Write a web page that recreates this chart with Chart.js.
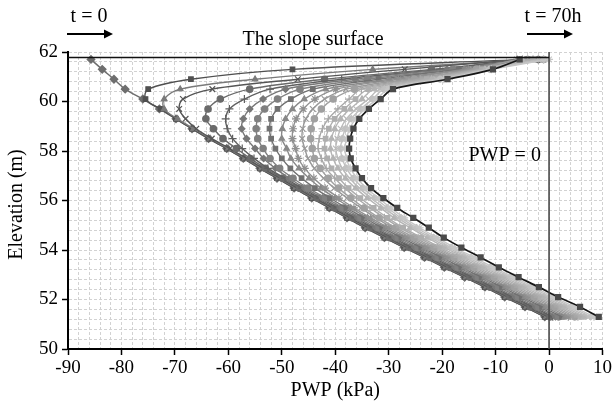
<!DOCTYPE html>
<html><head><meta charset="utf-8">
<script src="https://cdn.jsdelivr.net/npm/chart.js@4/dist/chart.umd.min.js"></script>
<style>html,body{margin:0;padding:0;background:#fff;}canvas{display:block;}</style>
</head><body>
<canvas id="c" width="614" height="405"></canvas>
<script>
// ---- data (elevation nodes, m) ----
const elevation = [61.7, 61.3, 60.9, 60.5, 60.1, 59.7, 59.3, 58.9, 58.5, 58.1, 57.7, 57.3, 56.9, 56.5, 56.1, 55.7, 55.3, 54.9, 54.5, 54.1, 53.7, 53.3, 52.9, 52.5, 52.1, 51.7, 51.3];
// ---- PWP profiles (kPa), t = 0 ... t = 70h ----
const pwp_t0  = [-85.7, -83.6, -81.4, -79.3, -76.0, -72.9, -69.8, -66.8, -63.7, -60.3, -57.2, -54.1, -50.9, -47.7, -44.4, -41.1, -37.8, -34.4, -30.8, -27.1, -23.3, -19.6, -15.8, -12.0, -8.3, -4.5, -0.8];
const pwp_s1  = [-4, -48, -67, -75, -75.5, -72.7, -69.8, -66.8, -63.7, -60.3, -57.2, -54.1, -50.9, -47.7, -44.4, -41.1, -37.8, -34.4, -30.8, -27.1, -23.3, -19.6, -15.8, -12.0, -8.3, -4.5, -0.8];
const pwp_s2  = [-3, -33, -55, -69, -72, -72, -69.5, -66.5, -63.4, -60.0, -56.9, -53.8, -50.6, -47.4, -44.1, -40.8, -37.5, -34.1, -30.5, -26.8, -23.0, -19.3, -15.5, -11.7, -8.0, -4.2, -0.5];
const pwp_s3  = [-5, -27, -47, -63, -68.5, -69.2, -68.0, -66.0, -63.1, -59.7, -56.6, -53.5, -50.3, -47.1, -43.8, -40.5, -37.2, -33.8, -30.2, -26.5, -22.7, -19.0, -15.2, -11.4, -7.7, -3.9, -0.2];
const pwp_s4  = [-2, -22, -42, -56, -61.5, -63.8, -64.2, -62.8, -61.0, -58.5, -55.9, -53.1, -49.9, -46.7, -43.4, -40.1, -36.8, -33.4, -29.8, -26.1, -22.3, -18.6, -14.8, -11.0, -7.3, -3.5, 0.2];
const pwp_s5  = [-6, -20.4, -38.8, -52.2, -57.0, -59.8, -60.5, -60.2, -59.2, -57.4, -55.2, -52.6, -49.4, -46.2, -42.9, -39.6, -36.3, -32.9, -29.3, -25.6, -21.8, -18.1, -14.3, -10.5, -6.8, -3.0, 0.7];
const pwp_s6  = [-1, -19.1, -36.3, -49.3, -53.5, -56.0, -57.2, -57.5, -56.6, -55.0, -53.4, -51.2, -48.6, -45.7, -42.4, -39.1, -35.8, -32.4, -28.8, -25.1, -21.3, -17.6, -13.8, -10.0, -6.3, -2.5, 1.2];
const pwp_s7  = [-4, -18.0, -34.0, -46.6, -50.8, -53.2, -54.5, -54.8, -54.5, -53.5, -52.2, -50.4, -47.9, -45.1, -41.8, -38.5, -35.2, -31.8, -28.2, -24.5, -20.7, -17.0, -13.2, -9.4, -5.7, -1.9, 1.8];
const pwp_s8  = [-3, -16.9, -31.9, -44.2, -48.3, -50.8, -52.0, -52.3, -52.0, -51.2, -50.0, -48.4, -46.3, -43.8, -41.0, -37.9, -34.6, -31.2, -27.6, -23.9, -20.1, -16.4, -12.6, -8.8, -5.1, -1.3, 2.4];
const pwp_s9  = [-5, -15.9, -29.8, -41.8, -45.8, -48.0, -49.3, -49.9, -50.0, -49.1, -48.3, -46.8, -44.9, -42.7, -40.0, -37.1, -34.0, -30.6, -27.0, -23.3, -19.5, -15.8, -12.0, -8.2, -4.5, -0.7, 3.0];
const pwp_s10 = [-2, -15.1, -28.2, -39.9, -43.8, -46.0, -47.3, -47.9, -48.0, -47.4, -46.9, -45.7, -44.0, -41.9, -39.3, -36.5, -33.4, -30.0, -26.4, -22.7, -18.9, -15.2, -11.4, -7.6, -3.9, -0.1, 3.6];
const pwp_s11 = [-6, -14.3, -26.6, -38.0, -42.0, -44.2, -45.5, -46.1, -46.2, -45.7, -45.1, -43.9, -42.2, -40.2, -37.8, -35.2, -32.4, -29.3, -25.8, -22.1, -18.3, -14.6, -10.8, -7.0, -3.3, 0.5, 4.2];
const pwp_s12 = [-1, -13.6, -25.2, -36.4, -40.4, -42.6, -43.9, -44.5, -44.6, -44.3, -43.9, -42.8, -41.3, -39.4, -37.1, -34.6, -31.8, -28.7, -25.2, -21.5, -17.7, -14.0, -10.2, -6.4, -2.7, 1.1, 4.8];
const pwp_s13 = [-4, -13.0, -24.1, -35.1, -37.4, -39.5, -41.3, -42.4, -43.0, -43.2, -42.6, -41.7, -40.1, -38.2, -36.0, -33.5, -30.8, -27.9, -24.5, -20.9, -17.1, -13.4, -9.6, -5.8, -2.1, 1.7, 5.4];
const pwp_s14 = [-3, -12.5, -22.9, -33.8, -36.2, -38.3, -40.1, -41.2, -41.8, -42.0, -41.5, -40.7, -39.3, -37.5, -35.3, -32.8, -30.2, -27.3, -23.9, -20.3, -16.5, -12.8, -9.0, -5.2, -1.5, 2.3, 6.0];
const pwp_s15 = [-5, -12.0, -22.0, -32.7, -35.0, -37.2, -39.0, -40.1, -40.7, -40.9, -40.4, -39.5, -38.1, -36.2, -34.0, -31.5, -29.0, -26.0, -22.8, -19.5, -15.8, -12.2, -8.4, -4.6, -0.9, 2.9, 6.6];
const pwp_s16 = [-2, -11.5, -21.1, -31.6, -33.8, -36.1, -37.9, -39.0, -39.6, -39.9, -39.5, -38.7, -37.3, -35.5, -33.3, -30.9, -28.3, -25.4, -22.2, -18.9, -15.2, -11.6, -7.8, -4.0, -0.3, 3.5, 7.2];
const pwp_s17 = [-1, -11.2, -20.4, -30.8, -33.0, -35.2, -37.0, -38.1, -38.7, -39.0, -38.7, -37.9, -36.6, -34.8, -32.6, -30.2, -27.7, -24.8, -21.6, -18.3, -14.6, -11.0, -7.2, -3.4, 0.3, 4.1, 7.8];
const pwp_s18 = [0, -10.8, -19.7, -30.0, -32.2, -34.4, -36.2, -37.3, -37.9, -38.2, -37.9, -37.2, -35.9, -34.2, -31.9, -29.6, -27.1, -24.2, -21.0, -17.7, -14.0, -10.4, -6.6, -2.8, 0.9, 4.7, 8.4];
const pwp_t70 = [-5.5, -10.5, -19.0, -29.2, -31.5, -33.7, -35.5, -36.6, -37.2, -37.4, -37.1, -36.2, -35.0, -33.3, -31.0, -28.4, -25.4, -22.5, -19.7, -16.4, -12.8, -9.4, -5.7, -1.9, 1.7, 5.8, 9.3];
// reference lines
const surfaceX = [-90, 0];
const surfaceY = [61.78, 61.78];
const zeroX = [0, 0];
const zeroY = [50, 62];
// tick labels
const xTickLabels = [-90, -80, -70, -60, -50, -40, -30, -20, -10, 0, 10];
const yTickLabels = [50, 52, 54, 56, 58, 60, 62];

// ---- styles ----
const midSeries = [pwp_s1, pwp_s2, pwp_s3, pwp_s4, pwp_s5, pwp_s6, pwp_s7, pwp_s8, pwp_s9, pwp_s10, pwp_s11, pwp_s12, pwp_s13, pwp_s14, pwp_s15, pwp_s16, pwp_s17, pwp_s18];
const midMarkers = ['rect','triangle','crossRot','circle','cross','rectRot','circle','rect','triangle','star','crossRot','circle','cross','rect','triangle','crossRot','rectRot','star'];
const midColors = ['#505050','#7a7a7a','#555555','#6a6a6a','#5f5f5f','#777777','#808080','#707070','#888888','#909090','#999999','#a0a0a0','#a8a8a8','#aeaeae','#b4b4b4','#bababa','#c0c0c0','#c6c6c6'];

function pts(xs, ys) { return xs.map((x, i) => ({x: x, y: ys[i]})); }

const datasets = [];
datasets.push({data: pts(surfaceX, surfaceY), borderColor:'#111', borderWidth:1.6, pointRadius:0, tension:0, order:-2});
datasets.push({data: pts(zeroX, zeroY), borderColor:'#4a4a4a', borderWidth:1.6, pointRadius:0, tension:0, order:-1});
datasets.push({data: pts(pwp_t70, elevation), borderColor:'#161616', borderWidth:1.7, pointStyle:'rect', pointRadius:3.2,
  pointBackgroundColor:'#4a4a4a', pointBorderColor:'#4a4a4a', order:0});
midSeries.forEach((s, k) => {
  datasets.push({data: pts(s, elevation), borderColor: midColors[k], borderWidth:1.4, pointStyle: midMarkers[k],
    pointRadius: (midMarkers[k]==='star'||midMarkers[k]==='cross'||midMarkers[k]==='crossRot') ? 4 : 3.2,
    pointBackgroundColor: midColors[k], pointBorderColor: midColors[k], pointBorderWidth:1.2, order: 18 - k});
});
datasets.push({data: pts(pwp_t0, elevation), borderColor:'#6e6e6e', borderWidth:1.5, pointStyle:'rectRot', pointRadius:3.6,
  pointBackgroundColor:'#6e6e6e', pointBorderColor:'#6e6e6e', order:20});

const xGrid = []; for (let v = -90; v <= 10; v += 2) xGrid.push(v);
const yGrid = []; for (let i = 0; i <= 30; i++) yGrid.push(Math.round((50 + i * 0.4) * 10) / 10);

const FONT = '"Liberation Serif", "Times New Roman", serif';

const annot = {
  id: 'annot',
  afterDraw(chart) {
    const ctx = chart.ctx;
    const xs = chart.scales.x, ys = chart.scales.y;
    ctx.save();
    ctx.fillStyle = '#000';
    ctx.textAlign = 'center';
    ctx.textBaseline = 'middle';
    ctx.font = '20px ' + FONT;
    ctx.fillText('The slope surface', 313, 40);
    ctx.fillText('t = 0', 89, 17);
    ctx.fillText('t = 70h', 553, 17);
    ctx.fillText('PWP = 0', xs.getPixelForValue(-8.3), ys.getPixelForValue(57.8));
    ctx.fillText('PWP (kPa)', (chart.chartArea.left + chart.chartArea.right) / 2, 391);
    ctx.save();
    ctx.translate(17, (chart.chartArea.top + chart.chartArea.bottom) / 2 + 4);
    ctx.rotate(-Math.PI / 2);
    ctx.fillText('Elevation (m)', 0, 0);
    ctx.restore();
    function arrow(x1, y, x2) {
      ctx.strokeStyle = '#000'; ctx.lineWidth = 2;
      ctx.beginPath(); ctx.moveTo(x1, y); ctx.lineTo(x2 - 3, y); ctx.stroke();
      ctx.beginPath(); ctx.moveTo(x2, y); ctx.lineTo(x2 - 9, y - 4.5); ctx.lineTo(x2 - 9, y + 4.5); ctx.closePath();
      ctx.fillStyle = '#000'; ctx.fill();
    }
    arrow(67, 34, 113);
    arrow(527, 34, 573);
    ctx.restore();
  }
};

const gridStyle = { color: '#d2d2d2', lineWidth: 1, tickLength: 6, tickWidth: 1.5 };

new Chart(document.getElementById('c'), {
  type: 'scatter',
  data: { datasets: datasets },
  options: {
    responsive: false, animation: false, devicePixelRatio: 1,
    layout: { padding: { left: 0, top: 52, right: 10, bottom: 0 } },
    plugins: { legend: { display: false }, tooltip: { enabled: false } },
    elements: { line: { tension: 0.35 } },
    datasets: { scatter: { showLine: true } },
    scales: {
      x: {
        type: 'linear', min: -90, max: 10,
        afterBuildTicks: (s) => { s.ticks = xGrid.map(v => ({ value: v })); },
        afterFit: (s) => { s.height = 56; },
        ticks: { autoSkip: false, maxRotation: 0, minRotation: 0, padding: 2, color: '#000',
          font: { family: FONT, size: 19 },
          callback: (v) => xTickLabels.includes(v) ? String(v) : '' },
        grid: Object.assign({}, gridStyle, {
          tickColor: (c) => (c.tick && xTickLabels.includes(c.tick.value)) ? '#000' : 'rgba(0,0,0,0)' }),
        border: { color: '#000', width: 2, dash: [3, 2] }
      },
      y: {
        type: 'linear', min: 50, max: 62,
        afterBuildTicks: (s) => { s.ticks = yGrid.map(v => ({ value: v })); },
        afterFit: (s) => { s.width = 68; },
        ticks: { autoSkip: false, padding: 4, color: '#000',
          font: { family: FONT, size: 19 },
          callback: (v) => yTickLabels.includes(v) ? String(v) : '' },
        grid: Object.assign({}, gridStyle, {
          tickColor: (c) => (c.tick && yTickLabels.includes(c.tick.value)) ? '#000' : 'rgba(0,0,0,0)' }),
        border: { color: '#000', width: 2, dash: [3, 2] }
      }
    }
  },
  plugins: [annot]
});
</script>
</body></html>
